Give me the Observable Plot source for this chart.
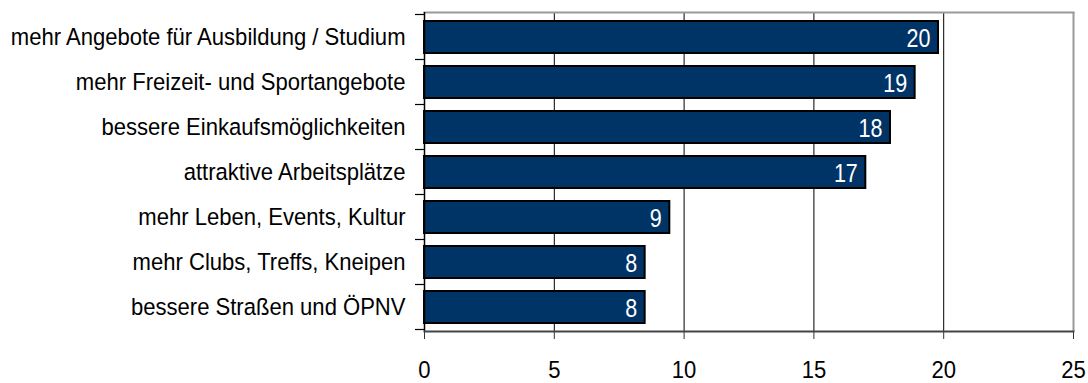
<!DOCTYPE html>
<html>
<head>
<meta charset="utf-8">
<script src="https://cdn.jsdelivr.net/npm/d3@7"></script>
<script src="https://cdn.jsdelivr.net/npm/@observablehq/plot@0.6"></script>
<style>
  html, body { margin: 0; padding: 0; background: #fff; }
</style>
</head>
<body>
<div id="chart"></div>
<script>
const categories = [
  "mehr Angebote für Ausbildung / Studium",
  "mehr Freizeit- und Sportangebote",
  "bessere Einkaufsmöglichkeiten",
  "attraktive Arbeitsplätze",
  "mehr Leben, Events, Kultur",
  "mehr Clubs, Treffs, Kneipen",
  "bessere Straßen und ÖPNV"
];
const values = [19.8, 18.9, 17.95, 17.0, 9.45, 8.5, 8.5];
const valueLabels = ["20", "19", "18", "17", "9", "8", "8"];
const xTicks = [0, 5, 10, 15, 20, 25];

const data = categories.map((c, i) => ({ category: c, value: values[i], label: valueLabels[i] }));

const font = "'Liberation Sans', Arial, sans-serif";

// boundary ticks on the category axis, drawn from the band scale
function boundaryTicks(index, scales) {
  const y = scales.y;
  const bw = typeof y.bandwidth === "function" ? y.bandwidth() : y.bandwidth;
  const step = y(categories[1]) - y(categories[0]);
  const gap = step - bw;
  const pos = categories.map(c => y(c) - gap / 2);
  pos.push(y(categories[categories.length - 1]) + bw + gap / 2);
  const x0 = scales.x(0);
  const g = d3.create("svg:g");
  for (const p of pos) {
    g.append("line")
      .attr("x1", x0 - 9).attr("x2", x0)
      .attr("y1", p).attr("y2", p)
      .attr("stroke", "#000").attr("stroke-width", 1.2);
  }
  return g.node();
}

const chart = Plot.plot({
  width: 1088,
  height: 383,
  marginLeft: 424,
  marginRight: 15,
  marginTop: 12,
  marginBottom: 52,
  style: { fontFamily: font, fontSize: "24.5px", color: "#000", background: "#fff" },
  x: { domain: [0, 25], ticks: xTicks },
  y: { domain: categories, paddingInner: 0.29, paddingOuter: 0.145 },
  marks: [
    Plot.ruleX(xTicks.slice(1, -1), { stroke: "#000", strokeWidth: 1 }),
    Plot.ruleX([25], { stroke: "#999", strokeWidth: 2 }),
    Plot.frame({ anchor: "top", stroke: "#999", strokeWidth: 2 }),
    Plot.barX(data, { x: "value", y: "category", fill: "#003366", stroke: "#000", strokeWidth: 2 }),
    Plot.text(data, { x: "value", y: "category", text: "label", textAnchor: "end", dx: -8, dy: 1, fill: "#fff", fontSize: 25, className: "barlabel" }),
    Plot.axisY({ tickSize: 0, tickPadding: 19, fontSize: 24.5, label: null }),
    Plot.axisX({ ticks: xTicks, tickSize: 8, tickPadding: 21, fontSize: 24.5, label: null, stroke: "#333" }),
    Plot.ruleX([0], { stroke: "#000", strokeWidth: 1.5 }),
    Plot.frame({ anchor: "bottom", stroke: "#444", strokeWidth: 2 }),
    boundaryTicks
  ]
});

document.getElementById("chart").appendChild(chart);

// condense glyphs horizontally (narrow typeface look), keeping each label's anchor
chart.querySelectorAll("text").forEach(t => {
  const isBar = t.closest(".barlabel") !== null;
  const factor = isBar ? 0.86 : 0.9;
  const len = t.getComputedTextLength();
  if (len > 0) {
    t.setAttribute("textLength", (len * factor).toFixed(2));
    t.setAttribute("lengthAdjust", "spacingAndGlyphs");
  }
});
</script>
</body>
</html>
